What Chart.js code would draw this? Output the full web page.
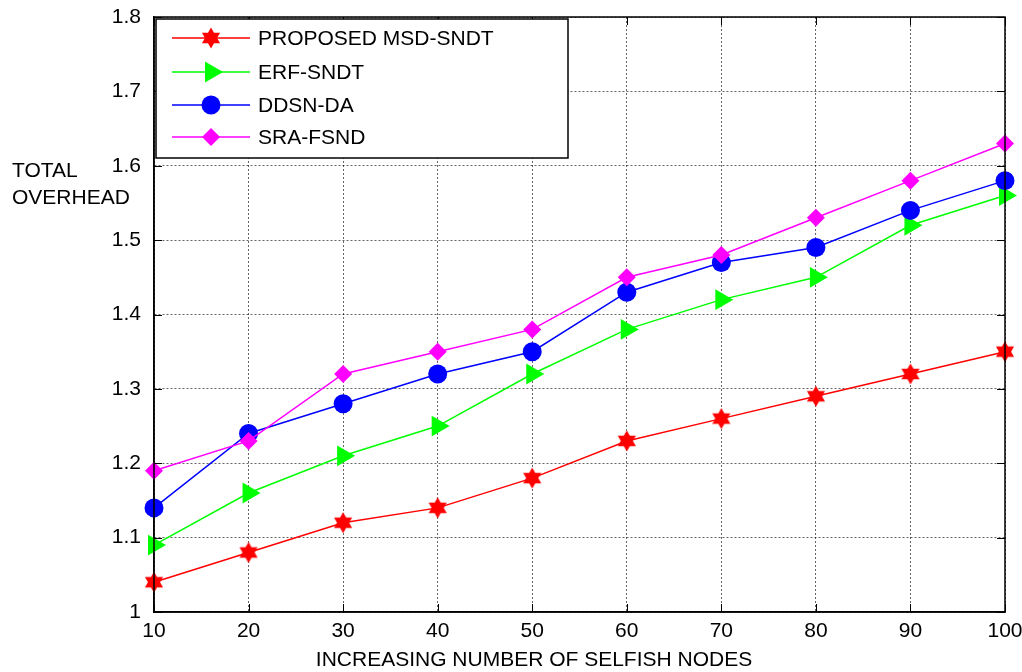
<!DOCTYPE html>
<html>
<head>
<meta charset="utf-8">
<script src="https://cdn.jsdelivr.net/npm/chart.js@4/dist/chart.umd.min.js"></script>
<style>
  body { margin: 0; background: #fff; }
  canvas { display: block; }
</style>
</head>
<body>
<canvas id="overheadChart" width="1022" height="672"></canvas>
<script>
const selfishNodes = [10, 20, 30, 40, 50, 60, 70, 80, 90, 100];
const proposedMsdSndt = [1.04, 1.08, 1.12, 1.14, 1.18, 1.23, 1.26, 1.29, 1.32, 1.35];
const erfSndt = [1.09, 1.16, 1.21, 1.25, 1.32, 1.38, 1.42, 1.45, 1.52, 1.56];
const ddsnDa = [1.14, 1.24, 1.28, 1.32, 1.35, 1.43, 1.47, 1.49, 1.54, 1.58];
const sraFsnd = [1.19, 1.23, 1.32, 1.35, 1.38, 1.45, 1.48, 1.53, 1.58, 1.63];
const seriesNames = ["PROPOSED MSD-SNDT", "ERF-SNDT", "DDSN-DA", "SRA-FSND"];

const FONT = "Arial, 'Liberation Sans', sans-serif";

// six pointed filled star used as marker for the proposed scheme
function makeStar(color) {
  const c = document.createElement("canvas");
  c.width = 24;
  c.height = 24;
  const g = c.getContext("2d");
  const outer = 10.5, inner = outer / Math.sqrt(3);
  g.beginPath();
  for (let i = 0; i < 12; i++) {
    const r = i % 2 === 0 ? outer : inner;
    const a = -Math.PI / 2 + i * Math.PI / 6;
    const px = 12 + r * Math.cos(a), py = 12 + r * Math.sin(a);
    if (i === 0) g.moveTo(px, py); else g.lineTo(px, py);
  }
  g.closePath();
  g.fillStyle = color;
  g.fill();
  return c;
}

const toPoints = (arr) => arr.map((v, i) => ({ x: selfishNodes[i], y: v }));

const styles = [
  { color: "#ff0000", pointStyle: makeStar("#ff0000"), radius: 10, rotation: 0, order: 3 },
  { color: "#00ff00", pointStyle: "triangle", radius: 12, rotation: 90, order: 2 },
  { color: "#0000ff", pointStyle: "circle", radius: 9.5, rotation: 0, order: 1 },
  { color: "#ff00ff", pointStyle: "rectRot", radius: 9, rotation: 0, order: 0 },
];
const seriesData = [proposedMsdSndt, erfSndt, ddsnDa, sraFsnd];

const datasets = seriesData.map((d, i) => ({
  label: seriesNames[i],
  data: toPoints(d),
  borderColor: styles[i].color,
  backgroundColor: styles[i].color,
  borderWidth: 1.5,
  pointStyle: styles[i].pointStyle,
  pointRadius: styles[i].radius,
  pointHoverRadius: styles[i].radius,
  pointRotation: styles[i].rotation,
  pointBorderWidth: 0,
  order: styles[i].order,
  clip: false,
  tension: 0,
}));

// box frame, inward ticks, axis titles and the boxed legend
const framePlugin = {
  id: "frame",
  afterDraw(chart) {
    const { ctx, chartArea: a, scales } = chart;
    ctx.save();
    ctx.strokeStyle = "#000";
    ctx.lineWidth = 1.5;
    ctx.strokeRect(a.left, a.top, a.right - a.left, a.bottom - a.top);

    ctx.lineWidth = 1;
    const tl = 8;
    ctx.beginPath();
    scales.y.ticks.forEach((t) => {
      const y = Math.round(scales.y.getPixelForValue(t.value)) + 0.5;
      ctx.moveTo(a.left, y); ctx.lineTo(a.left + tl, y);
      ctx.moveTo(a.right, y); ctx.lineTo(a.right - tl, y);
    });
    scales.x.ticks.forEach((t) => {
      const x = Math.round(scales.x.getPixelForValue(t.value)) + 0.5;
      ctx.moveTo(x, a.bottom); ctx.lineTo(x, a.bottom - tl);
      ctx.moveTo(x, a.top); ctx.lineTo(x, a.top + tl);
    });
    ctx.stroke();

    ctx.fillStyle = "#000";
    ctx.font = "21px " + FONT;
    ctx.textBaseline = "middle";
    // y axis title, horizontal on the left
    ctx.textAlign = "left";
    ctx.fillText("TOTAL", 12, 171);
    ctx.fillText("OVERHEAD", 12, 198);
    // x axis title, sits a bit left of the plot centre in the original
    ctx.textAlign = "center";
    ctx.fillText("INCREASING NUMBER OF SELFISH NODES", 534, 660);

    // legend
    const lx = 156, ly = 19, lw = 412, lh = 139;
    ctx.fillStyle = "#fff";
    ctx.fillRect(lx, ly, lw, lh);
    ctx.strokeStyle = "#000";
    ctx.lineWidth = 1.5;
    ctx.strokeRect(lx, ly, lw, lh);
    const rows = [38, 72, 105, 137];
    chart.data.datasets.forEach((ds, i) => {
      const y = rows[i];
      ctx.strokeStyle = ds.borderColor;
      ctx.lineWidth = 1.5;
      ctx.beginPath();
      ctx.moveTo(172, y);
      ctx.lineTo(250, y);
      ctx.stroke();
      ctx.fillStyle = ds.backgroundColor;
      Chart.helpers.drawPoint(ctx, {
        pointStyle: ds.pointStyle,
        radius: ds.pointRadius,
        rotation: ds.pointRotation,
        borderWidth: 0,
      }, 211, y);
      ctx.fillStyle = "#000";
      ctx.font = "21px " + FONT;
      ctx.textAlign = "left";
      ctx.textBaseline = "middle";
      ctx.fillText(ds.label, 258, y + 1);
    });
    ctx.restore();
  },
};

const gridStyle = {
  color: "rgba(0,0,0,0.6)",
  lineWidth: 1,
  drawTicks: false,
};

new Chart(document.getElementById("overheadChart"), {
  type: "line",
  data: { datasets },
  options: {
    responsive: false,
    animation: false,
    layout: { padding: { top: 17, right: 17, left: 0, bottom: 0 } },
    plugins: {
      legend: { display: false },
      tooltip: { enabled: false },
    },
    scales: {
      x: {
        type: "linear",
        min: 10,
        max: 100,
        grid: gridStyle,
        border: { display: true, color: "#000", width: 1.5, dash: [2, 2] },
        ticks: {
          stepSize: 10,
          padding: 7,
          color: "#000",
          font: { size: 21, family: FONT },
          maxRotation: 0,
        },
        afterFit: (s) => { s.height = 60; s.paddingLeft = 0; s.paddingRight = 0; },
      },
      y: {
        min: 1,
        max: 1.8,
        grid: gridStyle,
        border: { display: true, color: "#000", width: 1.5, dash: [2, 2] },
        ticks: {
          stepSize: 0.1,
          padding: 13,
          color: "#000",
          font: { size: 21, family: FONT },
          callback: (v) => String(+v.toFixed(1)),
        },
        afterFit: (s) => { s.width = 154; s.paddingTop = 0; s.paddingBottom = 0; },
      },
    },
  },
  plugins: [framePlugin],
});
</script>
</body>
</html>
